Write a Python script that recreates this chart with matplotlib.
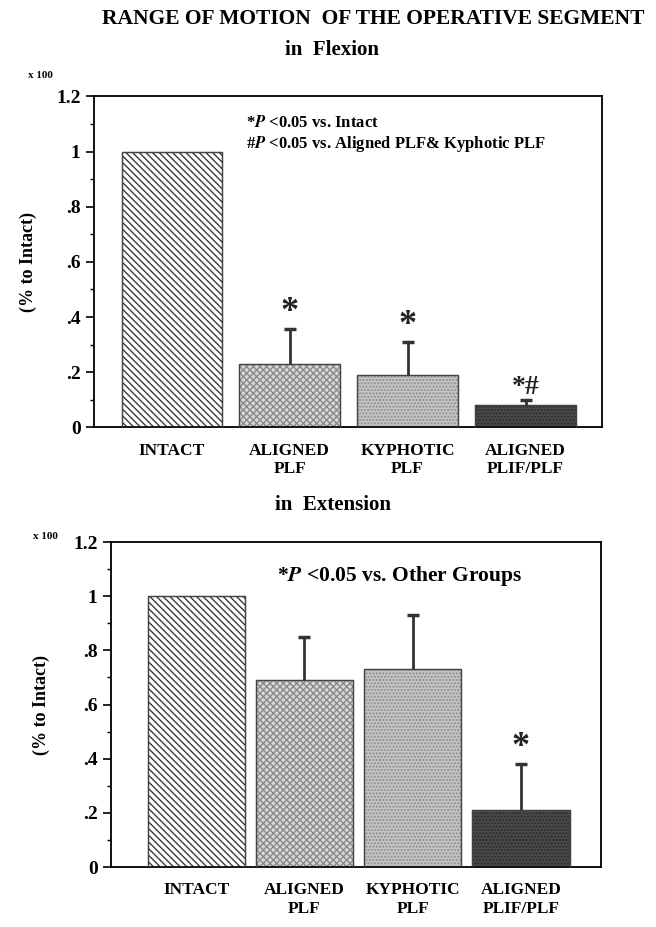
import matplotlib
matplotlib.use("Agg")
from matplotlib import pyplot as plt
from matplotlib.ticker import MultipleLocator, FixedLocator

plt.rcParams['font.family'] = ['Liberation Serif', 'DejaVu Serif']
plt.rcParams['font.weight'] = 'bold'
plt.rcParams['axes.labelweight'] = 'bold'
plt.rcParams['mathtext.fontset'] = 'stix'
plt.rcParams['hatch.linewidth'] = 1.0

groups = ['INTACT', 'ALIGNED\nPLF', 'KYPHOTIC\nPLF', 'ALIGNED\nPLIF/PLF']
flex_mean = [1.0, 0.23, 0.19, 0.08]
flex_err = [0.0, 0.125, 0.12, 0.02]
flex_marks = ['', '*', '*', '*#']
ext_mean = [1.0, 0.69, 0.73, 0.21]
ext_err = [0.0, 0.16, 0.20, 0.17]
ext_marks = ['', '', '', '*']

faces = ['white', '#d8d8d8', '#c4c4c4', '#4a4a4a']
hatches = ['\\\\\\\\\\', 'xxxxx', '.....', '.....']
hcolors = ['#3a3a3a', '#8a8a8a', '#8c8c8c', '#2a2a2a']
yticks = [0, 0.2, 0.4, 0.6, 0.8, 1.0, 1.2]
ytick_labels = ['0', '.2', '.4', '.6', '.8', '1', '1.2']


def panel(fig, rect, means, errs, marks, width, xlim, labelpad):
    ax = fig.add_axes(rect)
    x = range(len(means))
    for i in x:
        ax.bar(i, means[i], width=width, color=faces[i], edgecolor=hcolors[i],
               hatch=hatches[i], linewidth=0.8, zorder=2)
        ax.bar(i, means[i], width=width, color='none', edgecolor='#444444',
               linewidth=1.0, zorder=3)
        if errs[i] > 0:
            top = means[i] + errs[i]
            ax.vlines(i, means[i], top, color='#333333', linewidth=2, zorder=4)
            ax.plot(i, top, marker='_', markersize=9, markeredgewidth=2.5,
                    color='#333333', zorder=4)
        if marks[i]:
            ax.text(i, means[i] + errs[i] + 0.0, marks[i], ha='center',
                    va='bottom', fontsize=26 if marks[i] == '*' else 20,
                    fontweight='bold', color='#222222', zorder=5)
    ax.set_xlim(*xlim)
    ax.set_ylim(0, 1.2)
    ax.yaxis.set_major_locator(FixedLocator(yticks))
    ax.set_yticklabels(ytick_labels, fontsize=14)
    ax.yaxis.set_minor_locator(MultipleLocator(0.1))
    ax.tick_params(axis='y', which='major', direction='out', length=6, width=1.2)
    ax.tick_params(axis='y', which='minor', direction='out', length=3, width=1)
    ax.set_xticks(list(x))
    ax.set_xticklabels(groups, fontsize=12.5, linespacing=1.2)
    ax.tick_params(axis='x', length=0, pad=11)
    for s in ax.spines.values():
        s.set_linewidth(1.3)
    ax.set_ylabel('(% to Intact)', fontsize=13, labelpad=labelpad)
    return ax


fig = plt.figure(figsize=(6.56, 9.27), dpi=100)

ax1 = panel(fig, [0.143, 0.539, 0.775, 0.357], flex_mean, flex_err, flex_marks,
            0.85, (-0.66, 3.65), 14)
ax1.text(0.30, 0.92, r'*$\mathbfit{P}$ <0.05 vs. Intact', transform=ax1.transAxes,
         fontsize=12, va='center')
ax1.text(0.30, 0.855, r'#$\mathbfit{P}$ <0.05 vs. Aligned PLF& Kyphotic PLF',
         transform=ax1.transAxes, fontsize=12, va='center')

ax2 = panel(fig, [0.169, 0.0647, 0.747, 0.3506], ext_mean, ext_err, ext_marks,
            0.9, (-0.79, 3.74), 17)
ax2.text(0.34, 0.895, r'*$\mathbfit{P}$ <0.05 vs. Other Groups', transform=ax2.transAxes,
         fontsize=15.5, va='center')

fig.text(0.569, 0.98, 'RANGE OF MOTION  OF THE OPERATIVE SEGMENT', ha='center',
         va='center', fontsize=15.5)
fig.text(0.506, 0.946, 'in  Flexion', ha='center', va='center', fontsize=15)
fig.text(0.062, 0.919, 'x 100', ha='center', va='center', fontsize=8)
fig.text(0.508, 0.455, 'in  Extension', ha='center', va='center', fontsize=15)
fig.text(0.07, 0.421, 'x 100', ha='center', va='center', fontsize=8)

fig.savefig('out.png', dpi=100)
